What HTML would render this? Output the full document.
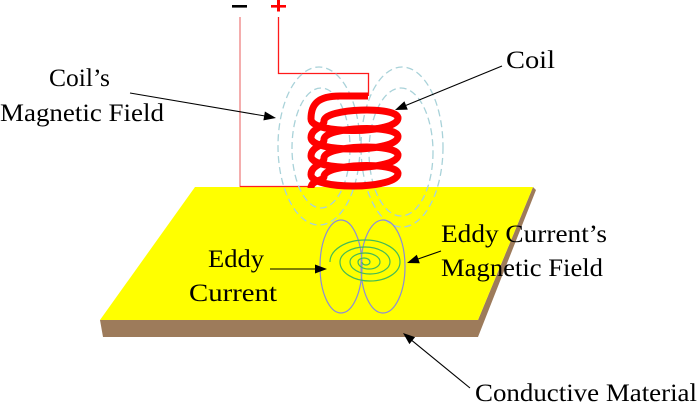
<!DOCTYPE html>
<html>
<head>
<meta charset="utf-8">
<style>
  html, body { margin: 0; padding: 0; background: #ffffff; }
  svg { display: block; }
  text { font-family: "Liberation Serif", "DejaVu Serif", serif; font-size: 25px; fill: #000; }
</style>
</head>
<body>
<svg width="700" height="403" viewBox="0 0 700 403" xmlns="http://www.w3.org/2000/svg">
  <rect x="0" y="0" width="700" height="403" fill="#ffffff"/>

  <!-- Conductive plate -->
  <polygon points="100,320 478,320 533,187 536,190 478,337 103,337" fill="#9d7b5b"/>
  <polygon points="195,187 533,187 478,320 100,320" fill="#ffff00"/>

  <!-- Wires -->
  <line x1="240" y1="17" x2="240" y2="187" stroke="#f08a8a" stroke-width="1.4"/>
  <line x1="240" y1="186.5" x2="312" y2="186.5" stroke="#ff2020" stroke-width="1.3"/>
  <polyline points="278.5,17 278.5,73.5 368.5,73.5 368.5,96" fill="none" stroke="#ff1a1a" stroke-width="1.3"/>

  <!-- Polarity signs -->
  <rect x="232" y="5" width="15" height="2.6" fill="#000"/>
  <rect x="271" y="5" width="15" height="2.6" fill="#ff0000"/>
  <rect x="277" y="0" width="3" height="11.5" fill="#ff0000"/>

  <!-- Coil magnetic field (dashed) -->
  <g fill="none" stroke="#a9d2d9" stroke-width="1.3" stroke-dasharray="7,4">
    <ellipse cx="319" cy="146" rx="41" ry="79"/>
    <ellipse cx="321" cy="148" rx="29" ry="60"/>
    <ellipse cx="402" cy="147" rx="41" ry="80"/>
    <ellipse cx="401" cy="152" rx="32" ry="64"/>
  </g>

  <!-- Eddy current's magnetic field -->
  <g fill="none" stroke="#8c8cd8" stroke-width="1.2">
    <ellipse cx="341" cy="266.5" rx="21" ry="46.5"/>
    <ellipse cx="383" cy="266.5" rx="22" ry="46.5"/>
  </g>

  <!-- Eddy current spiral -->
  <path d="M 330 262 A 35 22 0 0 1 400 262 A 30 19 0 0 1 340 262 A 25 15 0 0 1 390 262 A 20 12 0 0 1 350 262 A 15 9 0 0 1 380 262 A 11 7 0 0 1 358 262 A 6 4 0 0 1 370 262 A 4 3 0 0 1 362 262"
        fill="none" stroke="#44bb55" stroke-width="1.2"/>

  <!-- Coil -->
  <path d="M 368 96 L 340 96 C 318 96 311 104 311 119
           C 311 135 398 134 398 118
           C 398 106 324 108 324 121
           C 324 128 311 128 311 137.5
           C 311 153.5 398 152.5 398 136.5
           C 398 124.5 324 126.5 324 139.5
           C 324 146.5 311 146.5 311 156
           C 311 172 398 171 398 155
           C 398 143 324 145 324 158
           C 324 165 311 165 311 174.5
           C 311 190.5 398 189.5 398 173.5
           C 398 161.5 324 163.5 324 176.5
           C 324 181 311 180 311 188"
        fill="none" stroke="#ff0000" stroke-width="7" stroke-linejoin="round"/>

  <!-- Arrows -->
  <g stroke="#000" stroke-width="1.1" fill="none">
    <line x1="130" y1="93" x2="265" y2="116"/>
    <line x1="502" y1="66" x2="406" y2="105.4"/>
    <line x1="270" y1="269" x2="316" y2="269"/>
    <line x1="441" y1="251" x2="418" y2="259"/>
    <line x1="470" y1="388" x2="412" y2="340.6"/>
  </g>
  <g fill="#000">
    <polygon points="276,118 264.9,111.5 263.4,120.4"/>
    <polygon points="395,110 404.4,101.3 407.8,109.6"/>
    <polygon points="327,269 315,264.5 315,273.5"/>
    <polygon points="407,263 416.8,254.8 419.8,263.2"/>
    <polygon points="403,333 415.1,337.1 409.4,344.1"/>
  </g>

  <!-- Labels -->
  <text x="49" y="86" textLength="61" lengthAdjust="spacingAndGlyphs">Coil’s</text>
  <text x="0" y="121" textLength="164" lengthAdjust="spacingAndGlyphs">Magnetic Field</text>
  <text x="506" y="68" textLength="49" lengthAdjust="spacingAndGlyphs">Coil</text>
  <text x="441" y="242" textLength="166" lengthAdjust="spacingAndGlyphs">Eddy Current’s</text>
  <text x="441" y="276" textLength="162" lengthAdjust="spacingAndGlyphs">Magnetic Field</text>
  <text x="208" y="267" textLength="56" lengthAdjust="spacingAndGlyphs">Eddy</text>
  <text x="189" y="301" textLength="88" lengthAdjust="spacingAndGlyphs">Current</text>
  <text x="475" y="401" textLength="222" lengthAdjust="spacingAndGlyphs">Conductive Material</text>
</svg>
</body>
</html>
